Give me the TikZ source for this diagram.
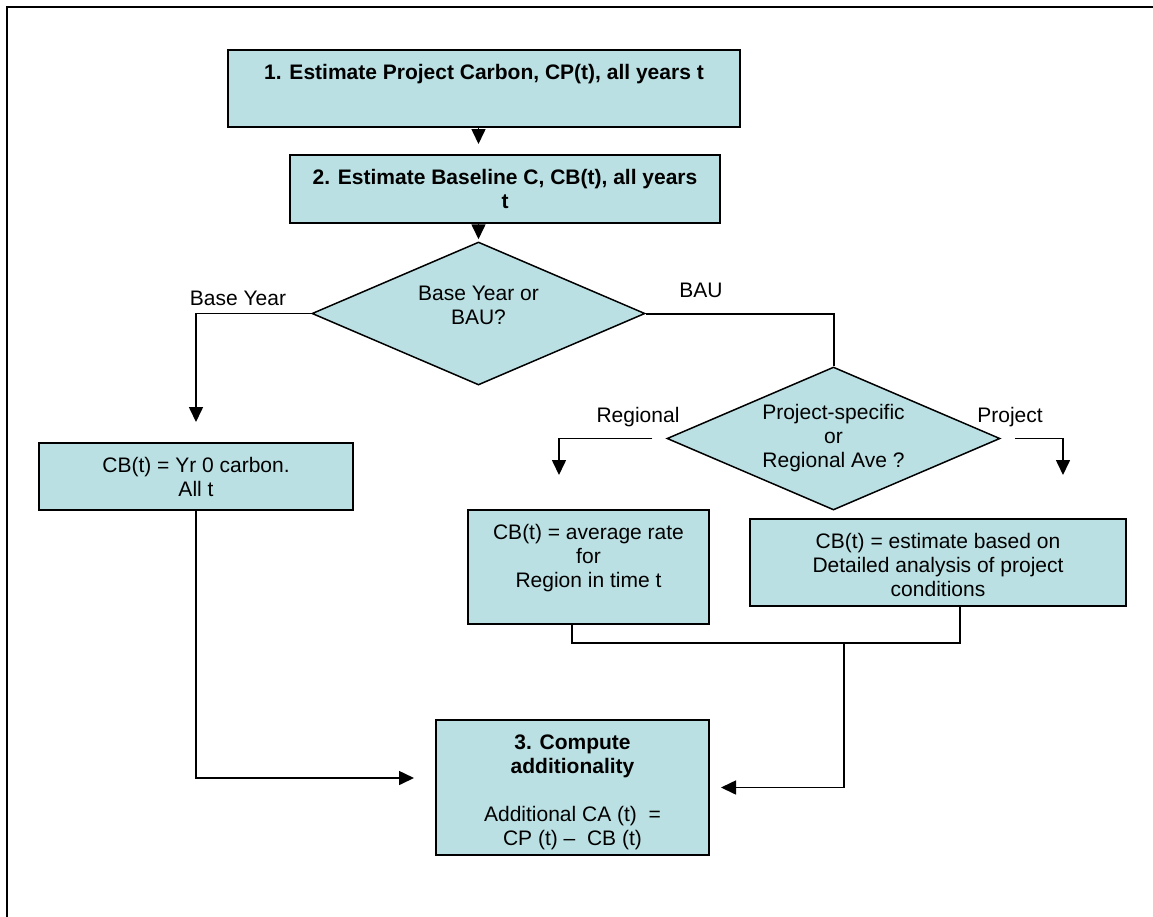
\documentclass[tikz,border=0pt]{standalone}
\usepackage{fontspec}
\setmainfont{Liberation Sans}
\usetikzlibrary{shapes.geometric, arrows.meta}

\definecolor{boxfill}{HTML}{BBE0E3}
% text block pinned to the top of a box of fixed size
\newcommand{\topbox}[3]{\parbox[c][#1][t]{#2}{\centering\rule{0pt}{14.5pt}#3}}

\begin{document}
\begin{tikzpicture}[x=0.5pt, y=-0.5pt, every node/.style={font=\fontsize{10.5}{12}\selectfont}]

        % Shared looks for boxes, decisions and connectors
        \tikzset{
            box/.style={draw, line width=1pt, fill=boxfill, inner sep=0pt},
            decision/.style={diamond, draw, line width=0.75pt, fill=boxfill, inner sep=0pt,
                aspect=2.33, minimum width=166.5pt, minimum height=71.5pt, align=center},
            link/.style={line width=0.8pt},
            flow/.style={link, -{Triangle[length=7.5pt, width=7pt]}}
        }

        \useasboundingbox (0,0) rectangle (1153,917);

        % --- Page frame (only top and left edges show) ---
        \draw[line width=1pt] (7,917) -- (7,7) -- (1153,7);

        % --- Steps 1 and 2 ---
        \node[box] (est1) at (484,88.5) {\topbox{38.5pt}{256pt}{\bfseries 1. Estimate Project Carbon, CP(t), all years t}};
        \node[box] (est2) at (505,189) {\topbox{34pt}{215pt}{\bfseries 2. Estimate Baseline C, CB(t), all years\\t}};

        % --- First decision: base year or BAU ---
        % (empty last line lifts the text a little, as in the original)
        \node[decision] (bau) at (478.5,313.5) {Base Year or\\BAU?\\[-4pt]\mbox{}};
        \node (lblbase) at (238,298) {Base Year};
        \node (lblbau) at (701,290) {BAU};

        \node[box] (yr0) at (196,476.5) {\topbox{33.5pt}{157pt}{CB(t) = Yr 0 carbon.\\All t}};

        % --- Second decision: project or regional ---
        \node[decision] (src) at (833.5,438.5) {Project-specific\\or\\Regional Ave ?};
        \node (lblreg) at (638,417) {Regional};
        \node (lblprj) at (1010,417) {Project};
        \coordinate (regtip) at (559,475);
        \coordinate (prjtip) at (1063,475);

        \node[box] (reg) at (588.5,567) {\topbox{57pt}{120.5pt}{CB(t) = average rate\\for\\Region in time t}};
        \node[box] (prj) at (938,562.5) {\topbox{43.5pt}{188pt}{CB(t) = estimate based on\\Detailed analysis of project\\conditions}};

        % --- Step 3 ---
        \node[box] (add) at (572.5,787.5) {\topbox{67.5pt}{136.5pt}{\bfseries 3. Compute\\additionality\\[12pt]\mdseries Additional CA (t)~ =\\CP (t) –~ CB (t)}};
        \coordinate (join) at (844,643);

        % --- Connectors ---
        \draw[flow, shorten >=5pt] (est1.south -| bau.north) -- (est2.north -| bau.north);
        \draw[flow, shorten >=1pt] (est2.south -| bau.north) -- (bau.north);
        \draw[flow, shorten >=10pt] (bau.west) -| (yr0.north);
        \draw[link, line width=1pt] (bau.east) -| (src.north);
        \draw[flow, shorten <=7pt] (src.west) -| (regtip);
        \draw[flow, shorten <=7pt] (src.east) -| (prjtip);
        \draw[link] ([xshift=-8.25pt]reg.south) |- (join) -| ([xshift=11pt]prj.south);
        \draw[flow, shorten >=5.5pt] (join) |- (add.east);
        \draw[flow, shorten >=10.5pt] (yr0.south) |- ([yshift=4.75pt]add.west);

    \end{tikzpicture}
\end{document}
